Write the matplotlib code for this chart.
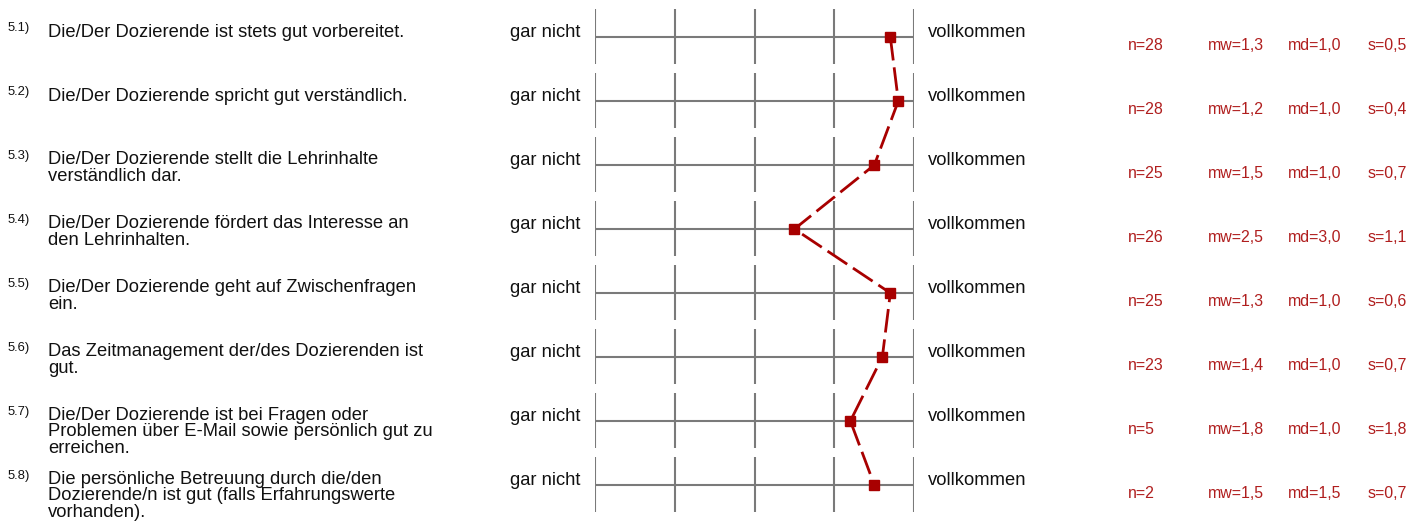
"""Profile line chart (EvaSys style) for questions 5.1 - 5.8."""

import matplotlib
matplotlib.use("Agg")
import matplotlib.pyplot as plt
from matplotlib.transforms import blended_transform_factory

plt.rcParams["font.family"] = ["Liberation Sans", "DejaVu Sans"]

W, H, DPI = 1423, 525, 100

labels = ["5.1)", "5.2)", "5.3)", "5.4)", "5.5)", "5.6)", "5.7)", "5.8)"]
questions = [
    "Die/Der Dozierende ist stets gut vorbereitet.",
    "Die/Der Dozierende spricht gut verständlich.",
    "Die/Der Dozierende stellt die Lehrinhalte\nverständlich dar.",
    "Die/Der Dozierende fördert das Interesse an\nden Lehrinhalten.",
    "Die/Der Dozierende geht auf Zwischenfragen\nein.",
    "Das Zeitmanagement der/des Dozierenden ist\ngut.",
    "Die/Der Dozierende ist bei Fragen oder\nProblemen über E-Mail sowie persönlich gut zu\nerreichen.",
    "Die persönliche Betreuung durch die/den\nDozierende/n ist gut (falls Erfahrungswerte\nvorhanden).",
]
left_pole = "gar nicht"
right_pole = "vollkommen"
scale = [1, 2, 3, 4, 5]
n = [28, 28, 25, 26, 25, 23, 5, 2]
mw = [1.3, 1.2, 1.5, 2.5, 1.3, 1.4, 1.8, 1.5]
md = [1.0, 1.0, 1.0, 3.0, 1.0, 1.0, 1.0, 1.5]
sd = [0.5, 0.4, 0.7, 1.1, 0.6, 0.7, 1.8, 0.7]

GRID = "#7a7a7a"
MARK = "#a80000"
STAT = "#b01e1e"
TEXT = "#111111"

ROW0, ROWH = 37, 64          # pixel y of first row line, row pitch
PX = 1 / ROWH                # one pixel in row units
LINE_STEP = 16               # pixel distance between wrapped lines


def de(v):
    return f"{v:.1f}".replace(".", ",")


fig = plt.figure(figsize=(W / DPI, H / DPI), dpi=DPI)
ax = fig.add_axes([594.7 / W, 0, (914.3 - 594.7) / W, 1])
ax.set_xlim(5, 1)
ax.set_ylim((H - ROW0) / ROWH, -ROW0 / ROWH)
ax.axis("off")

rows = list(range(len(questions)))
for r in rows:
    ax.vlines(scale, r - 0.435, r + 0.425, color=GRID, lw=1.5)
ax.hlines(rows, 1, 5, color=GRID, lw=1.5)

ax.plot(mw, rows, color=MARK, lw=2.0, dashes=(8.5, 2.5),
        marker="s", ms=6.5, mec=MARK, mfc=MARK, clip_on=False, zorder=5)

tr = blended_transform_factory(fig.transFigure, ax.transData)
for r in rows:
    nlines = questions[r].count("\n")
    ax.text(8 / W, r - 5.5 * PX, labels[r], transform=tr, fontsize=9.4,
            color=TEXT, va="baseline", ha="left")
    # baseline alignment refers to the last line, so shift down for wraps
    ax.text(48 / W, r + nlines * LINE_STEP * PX, questions[r], transform=tr,
            fontsize=13.2, color=TEXT, va="baseline", ha="left",
            linespacing=0.98)
    ax.text(580 / W, r, left_pole, transform=tr, fontsize=13.2,
            color=TEXT, va="baseline", ha="right")
    ax.text(928 / W, r, right_pole, transform=tr, fontsize=13.2,
            color=TEXT, va="baseline", ha="left")
    stats = [f"n={n[r]}", f"mw={de(mw[r])}", f"md={de(md[r])}", f"s={de(sd[r])}"]
    for x, s in zip([1128, 1208, 1288, 1368], stats):
        ax.text(x / W, r + 12.5 * PX, s, transform=tr, fontsize=11.4,
                color=STAT, va="baseline", ha="left")

fig.savefig("out.png", dpi=DPI, facecolor="white")
